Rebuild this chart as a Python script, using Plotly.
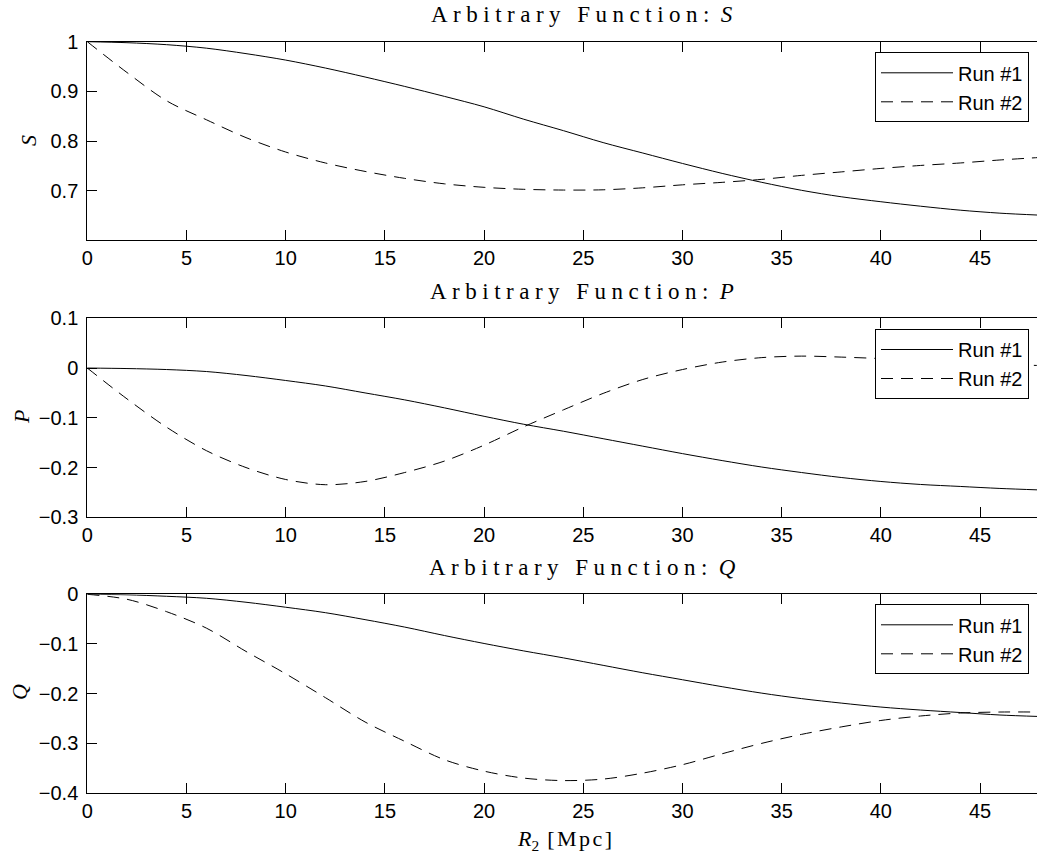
import plotly.graph_objects as go

# ---- data -------------------------------------------------------------
r2 = [0, 2, 4, 6, 8, 10, 12, 14, 16, 18, 20, 22, 24,
      26, 28, 30, 32, 34, 36, 38, 40, 42, 44, 46, 48]

s_run1 = [1.000, 0.998, 0.994, 0.987, 0.976, 0.963, 0.947, 0.929, 0.910,
          0.890, 0.869, 0.844, 0.821, 0.797, 0.776, 0.755, 0.735, 0.717,
          0.701, 0.688, 0.678, 0.669, 0.661, 0.655, 0.651]
s_run2 = [1.000, 0.938, 0.881, 0.843, 0.807, 0.778, 0.756, 0.739, 0.725,
          0.714, 0.707, 0.703, 0.7015, 0.702, 0.706, 0.712, 0.717, 0.723,
          0.731, 0.738, 0.745, 0.751, 0.756, 0.762, 0.767]

p_run1 = [0.000, -0.001, -0.003, -0.007, -0.015, -0.025, -0.036, -0.050,
          -0.064, -0.080, -0.097, -0.113, -0.127, -0.142, -0.157, -0.172,
          -0.186, -0.199, -0.210, -0.220, -0.228, -0.234, -0.238, -0.242,
          -0.245]
p_run2 = [0.000, -0.062, -0.119, -0.166, -0.200, -0.224, -0.2345, -0.228,
          -0.210, -0.187, -0.155, -0.118, -0.084, -0.051, -0.023, -0.003,
          0.012, 0.021, 0.024, 0.022, 0.019, 0.015, 0.011, 0.008, 0.005]

q_run1 = [0.000, -0.001, -0.004, -0.008, -0.016, -0.026, -0.037, -0.051,
          -0.066, -0.083, -0.099, -0.114, -0.128, -0.143, -0.158, -0.172,
          -0.186, -0.199, -0.210, -0.219, -0.227, -0.233, -0.238, -0.243,
          -0.246]
q_run2 = [0.000, -0.010, -0.035, -0.068, -0.115, -0.160, -0.208, -0.257,
          -0.296, -0.333, -0.356, -0.370, -0.375, -0.372, -0.360, -0.343,
          -0.321, -0.300, -0.282, -0.267, -0.254, -0.245, -0.239, -0.237,
          -0.237]

run_names = ["Run #1", "Run #2"]
panel_symbols = ["S", "P", "Q"]
x_ticks = [0, 5, 10, 15, 20, 25, 30, 35, 40, 45]
s_ticks = [0.7, 0.8, 0.9, 1.0]
s_tick_text = ["0.7", "0.8", "0.9", "1"]
p_ticks = [-0.3, -0.2, -0.1, 0.0, 0.1]
q_ticks = [-0.4, -0.3, -0.2, -0.1, 0.0]

# ---- geometry (pixels) ------------------------------------------------
W, H = 1037, 854
AX_LEFT = 87.3
PANELS_PX = [(41.7, 240.0), (318.3, 517.3), (594.3, 793.0)]
Y_RANGES = [[0.601, 1.0], [-0.3, 0.1], [-0.4, 0.0]]
X_RANGE = [0, 47.87]

SANS = "Liberation Sans, Arial, sans-serif"
SERIF = "Liberation Serif, Times New Roman, serif"
TICK_FONT = dict(family=SANS, size=20, color="black")


def py(px):
    return 1 - px / H


def px_x(px):
    return px / W


series = [(s_run1, s_run2), (p_run1, p_run2), (q_run1, q_run2)]
y_ticks = [(s_ticks, s_tick_text), (p_ticks, None), (q_ticks, None)]
legend_tops = [52.3, 329.0, 604.3]
title_centers = [14.0, 291.5, 567.0]
ylabel_pos = [(29, 141), (21, 417), (19, 692)]

fig = go.Figure()
layout = dict(
    width=W, height=H,
    margin=dict(l=0, r=0, t=0, b=0),
    paper_bgcolor="white", plot_bgcolor="white",
    template="none",
    annotations=[],
)

for i in range(3):
    k = "" if i == 0 else str(i + 1)
    leg = "legend" + k
    top, bot = PANELS_PX[i]
    for j, (vals, dash) in enumerate(zip(series[i], ["solid", "12px,8px"])):
        fig.add_trace(go.Scatter(
            x=r2, y=vals, mode="lines", name=run_names[j],
            line=dict(color="black", width=1, dash=dash,
                      shape="spline", smoothing=0.9),
            xaxis="x" + k, yaxis="y" + k, legend=leg,
        ))

    tv, tt = y_ticks[i]
    layout["xaxis" + k] = dict(
        domain=[px_x(AX_LEFT), 1.0], range=X_RANGE, anchor="y" + k,
        tickvals=x_ticks, ticks="inside", ticklen=10, tickcolor="black",
        showline=True, linecolor="black", linewidth=1, mirror="ticks",
        showgrid=False, zeroline=False, tickfont=TICK_FONT,
    )
    layout["yaxis" + k] = dict(
        domain=[py(bot), py(top)], range=Y_RANGES[i], anchor="x" + k,
        tickvals=tv, ticktext=tt, ticks="inside", ticklen=10,
        tickcolor="black", showline=True, linecolor="black", linewidth=1,
        mirror=False, showgrid=False, zeroline=False, tickfont=TICK_FONT,
        ticklabelstandoff=4,
    )
    # inward ticks on the right-hand side of each panel
    layout["yaxis" + str(i + 4)] = dict(
        overlaying="y" + k, anchor="x" + k, side="right",
        range=Y_RANGES[i], tickvals=tv, ticks="inside", ticklen=7,
        tickcolor="black", showticklabels=False, showline=False,
        showgrid=False, zeroline=False,
    )
    layout[leg] = dict(
        x=px_x(1029), xanchor="right", y=py(legend_tops[i]), yanchor="top",
        bordercolor="black", borderwidth=1, bgcolor="white",
        font=dict(family=SANS, size=20, color="black"),
        itemwidth=72, tracegroupgap=0,
    )
    layout["annotations"].append(dict(
        text='<span style="letter-spacing:5.5px">Arbitrary Function:</span> '
             "<i>" + panel_symbols[i] + "</i>",
        x=px_x(582), y=py(title_centers[i]), xref="paper", yref="paper",
        xanchor="center", yanchor="middle", showarrow=False,
        font=dict(family=SERIF, size=23, color="black"),
    ))
    lx, ly = ylabel_pos[i]
    layout["annotations"].append(dict(
        text="<i>" + panel_symbols[i] + "</i>",
        x=px_x(lx), y=py(ly), xref="paper", yref="paper",
        xanchor="center", yanchor="middle", textangle=-90, showarrow=False,
        font=dict(family=SERIF, size=22, color="black"),
    ))

layout["annotations"].append(dict(
    text='<i>R</i><sub>2</sub><span style="letter-spacing:2.5px"> [Mpc]</span>',
    x=px_x(566), y=py(840), xref="paper", yref="paper",
    xanchor="center", yanchor="middle", showarrow=False,
    font=dict(family=SERIF, size=22, color="black"),
))

fig.update_layout(**layout)
fig.write_html("out.html")
